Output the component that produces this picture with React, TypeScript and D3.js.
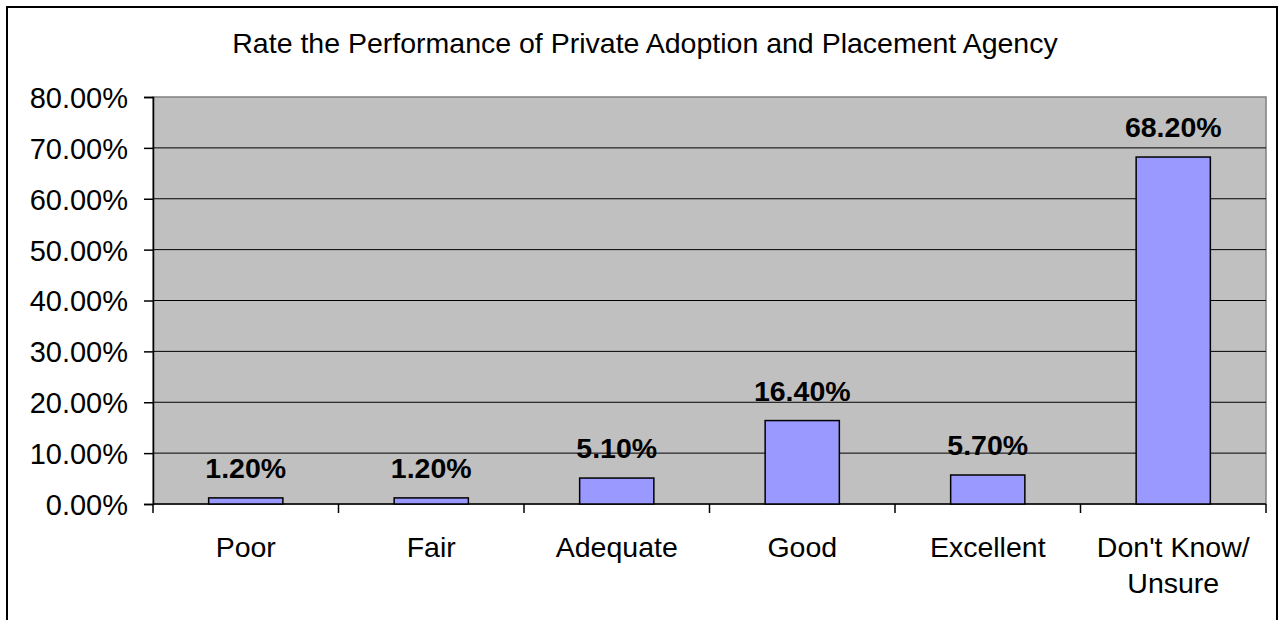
import React, { useEffect, useRef } from 'react';
import * as d3 from 'd3';

const categories = ['Poor', 'Fair', 'Adequate', 'Good', 'Excellent', "Don't Know/\nUnsure"];
const values = [1.2, 1.2, 5.1, 16.4, 5.7, 68.2];
const yTicks = [0, 10, 20, 30, 40, 50, 60, 70, 80];
const title = 'Rate the Performance of Private Adoption and Placement Agency';

function App() {
  const svgRef = useRef<SVGSVGElement>(null);
  const width = 1287;
  const height = 620;

  useEffect(() => {
    const svg = d3.select(svgRef.current);
    svg.selectAll('*').remove();

    const font = 'Arial, "Liberation Sans", sans-serif';
    const plot = { left: 153, right: 1266, top: 97, bottom: 504 };

    // outer frame
    svg.append('rect')
      .attr('x', 7).attr('y', 7)
      .attr('width', 1270).attr('height', 620)
      .attr('fill', '#fff')
      .attr('stroke', '#000')
      .attr('stroke-width', 2);

    svg.append('text')
      .attr('x', 645).attr('y', 53)
      .attr('text-anchor', 'middle')
      .attr('font-family', font)
      .attr('font-size', 28.5)
      .attr('fill', '#000')
      .text(title);

    const x = d3.scaleBand()
      .domain(categories)
      .range([plot.left, plot.right])
      .paddingInner(0.6)
      .paddingOuter(0.3);

    const band = (plot.right - plot.left) / categories.length;

    const y = d3.scaleLinear()
      .domain([0, 80])
      .range([plot.bottom, plot.top]);

    // plot area
    svg.append('rect')
      .attr('x', plot.left).attr('y', plot.top)
      .attr('width', plot.right - plot.left)
      .attr('height', plot.bottom - plot.top)
      .attr('fill', '#c0c0c0')
      .attr('stroke', '#808080')
      .attr('stroke-width', 1.5);

    // gridlines
    svg.append('g')
      .selectAll('line')
      .data(yTicks.filter(t => t > 0 && t < 80))
      .enter()
      .append('line')
      .attr('x1', plot.left).attr('x2', plot.right)
      .attr('y1', d => y(d)).attr('y2', d => y(d))
      .attr('stroke', '#000')
      .attr('stroke-width', 1);

    // y axis
    const yAxis = svg.append('g')
      .attr('transform', `translate(${plot.left},0)`)
      .call(d3.axisLeft(y).tickValues(yTicks).tickSize(9).tickPadding(16)
        .tickFormat(d => `${(+d).toFixed(2)}%`));
    yAxis.select('.domain').attr('stroke', '#000').attr('stroke-width', 1.5);
    yAxis.selectAll('.tick line').attr('stroke', '#000').attr('stroke-width', 1.5);
    yAxis.selectAll('.tick text')
      .attr('font-family', font)
      .attr('font-size', 29)
      .attr('fill', '#000')
      .attr('dy', '0.36em');

    // x axis
    const xAxis = svg.append('g')
      .attr('transform', `translate(0,${plot.bottom})`);
    xAxis.append('line')
      .attr('x1', plot.left).attr('x2', plot.right)
      .attr('stroke', '#000').attr('stroke-width', 1.5);
    xAxis.selectAll('line.tick')
      .data(d3.range(categories.length + 1))
      .enter()
      .append('line')
      .attr('class', 'tick')
      .attr('x1', i => plot.left + i * band)
      .attr('x2', i => plot.left + i * band)
      .attr('y1', 0).attr('y2', 9)
      .attr('stroke', '#000').attr('stroke-width', 1.5);

    xAxis.selectAll('text')
      .data(categories)
      .enter()
      .append('text')
      .attr('x', d => x(d)! + x.bandwidth() / 2)
      .attr('y', 53)
      .attr('text-anchor', 'middle')
      .attr('font-family', font)
      .attr('font-size', 28.5)
      .attr('fill', '#000')
      .each(function (d) {
        const lines = d.split('\n');
        d3.select(this).selectAll('tspan')
          .data(lines)
          .enter()
          .append('tspan')
          .attr('x', x(d)! + x.bandwidth() / 2)
          .attr('dy', (_, i) => (i === 0 ? 0 : 36))
          .text(l => l);
      });

    // bars
    svg.append('g')
      .selectAll('rect')
      .data(values)
      .enter()
      .append('rect')
      .attr('x', (_, i) => x(categories[i])!)
      .attr('y', d => y(d))
      .attr('width', x.bandwidth())
      .attr('height', d => plot.bottom - y(d))
      .attr('fill', '#9999ff')
      .attr('stroke', '#000')
      .attr('stroke-width', 1.5);

    // value labels
    svg.append('g')
      .selectAll('text')
      .data(values)
      .enter()
      .append('text')
      .attr('x', (_, i) => x(categories[i])! + x.bandwidth() / 2)
      .attr('y', d => y(d) - 20)
      .attr('text-anchor', 'middle')
      .attr('font-family', font)
      .attr('font-size', 28.5)
      .attr('font-weight', 'bold')
      .attr('fill', '#000')
      .text(d => `${d.toFixed(2)}%`);
  }, []);

  return (
    <svg
      ref={svgRef}
      width={width}
      height={height}
      style={{ position: 'absolute', left: 0, top: 0, background: '#fff' }}
    />
  );
}

export default App;
